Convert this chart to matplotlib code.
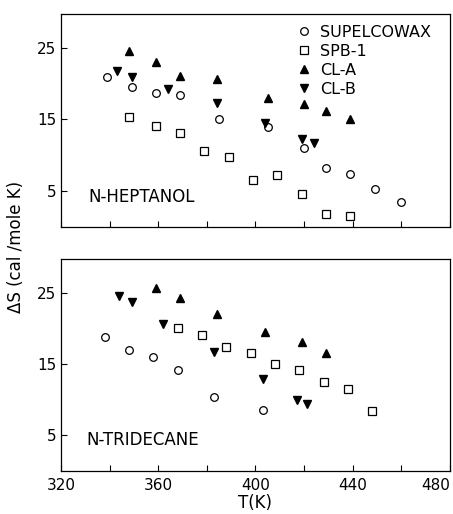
import matplotlib
matplotlib.use("Agg")
import matplotlib.pyplot as plt
from matplotlib.ticker import MultipleLocator

plt.rcParams['font.family'] = ['DejaVu Sans']
plt.rcParams['font.size'] = 10

# N-HEPTANOL (top panel)
hep_wax_T = [339, 349, 359, 369, 385, 405, 420, 429, 439, 449, 460]
hep_wax_S = [20.9, 19.5, 18.7, 18.4, 15.1, 13.9, 11.0, 8.2, 7.4, 5.3, 3.5]
hep_spb_T = [348, 359, 369, 379, 389, 399, 409, 419, 429, 439]
hep_spb_S = [15.3, 14.1, 13.1, 10.6, 9.8, 6.6, 7.2, 4.6, 1.9, 1.5]
hep_cla_T = [348, 359, 369, 384, 405, 420, 429, 439]
hep_cla_S = [24.6, 23.0, 21.1, 20.6, 18.0, 17.2, 16.2, 15.0]
hep_clb_T = [343, 349, 364, 384, 404, 419, 424]
hep_clb_S = [21.7, 20.9, 19.2, 17.3, 14.5, 12.3, 11.7]

# N-TRIDECANE (bottom panel)
tri_wax_T = [338, 348, 358, 368, 383, 403]
tri_wax_S = [18.8, 17.0, 15.9, 14.1, 10.3, 8.5]
tri_spb_T = [368, 378, 388, 398, 408, 418, 428, 438, 448]
tri_spb_S = [20.0, 19.0, 17.3, 16.5, 15.0, 14.1, 12.5, 11.5, 8.4]
tri_cla_T = [359, 369, 384, 404, 419, 429]
tri_cla_S = [25.7, 24.3, 22.0, 19.5, 18.1, 16.5]
tri_clb_T = [344, 349, 362, 383, 403, 417, 421]
tri_clb_S = [24.5, 23.7, 20.6, 16.7, 12.9, 10.0, 9.4]

x_ticks = [320, 360, 400, 440, 480]

fig = plt.figure(figsize=(4.53, 5.14), dpi=100)
ax1 = fig.add_axes([0.135, 0.558, 0.858, 0.415])
ax2 = fig.add_axes([0.135, 0.084, 0.858, 0.412])

ms = 5.5
def draw(ax, wax, spb, cla, clb):
    ax.plot(wax[0], wax[1], 'o', mfc='white', mec='black', mew=0.9, ms=ms, ls='none', label='SUPELCOWAX')
    ax.plot(spb[0], spb[1], 's', mfc='white', mec='black', mew=0.9, ms=ms, ls='none', label='SPB-1')
    ax.plot(cla[0], cla[1], '^', color='black', ms=ms, ls='none', label='CL-A')
    ax.plot(clb[0], clb[1], 'v', color='black', ms=ms, ls='none', label='CL-B')
    ax.set_xlim(320, 480)
    ax.set_ylim(0, 29.7)
    ax.set_yticks([5, 15, 25])
    ax.set_xticks(x_ticks)
    ax.xaxis.set_minor_locator(MultipleLocator(20))
    ax.tick_params(direction='in', length=4, width=0.8, labelsize=11)
    ax.tick_params(which='minor', direction='in', length=4, width=0.8)
    for s in ax.spines.values():
        s.set_linewidth(0.9)

draw(ax1, (hep_wax_T, hep_wax_S), (hep_spb_T, hep_spb_S), (hep_cla_T, hep_cla_S), (hep_clb_T, hep_clb_S))
draw(ax2, (tri_wax_T, tri_wax_S), (tri_spb_T, tri_spb_S), (tri_cla_T, tri_cla_S), (tri_clb_T, tri_clb_S))

ax1.tick_params(labelbottom=False)
ax2.tick_params(axis='x', pad=5)
# keep the last label inside the figure
ax2.get_xticklabels()[-1].set_horizontalalignment('right')

ax1.legend(loc='upper left', bbox_to_anchor=(0.575, 1.0), frameon=False,
           handletextpad=0.5, labelspacing=0.25, handlelength=1.0,
           borderaxespad=0.3, fontsize=11.5)
ax1.text(0.07, 0.14, 'N-HEPTANOL', transform=ax1.transAxes, fontsize=12, va='center')
ax2.text(0.065, 0.145, 'N-TRIDECANE', transform=ax2.transAxes, fontsize=12, va='center')

ax2.set_xlabel('T(K)', fontsize=12, labelpad=1)
fig.text(0.035, 0.52, 'ΔS (cal /mole K)', rotation=90, ha='center', va='center', fontsize=12)

fig.savefig('out.png', dpi=100)
